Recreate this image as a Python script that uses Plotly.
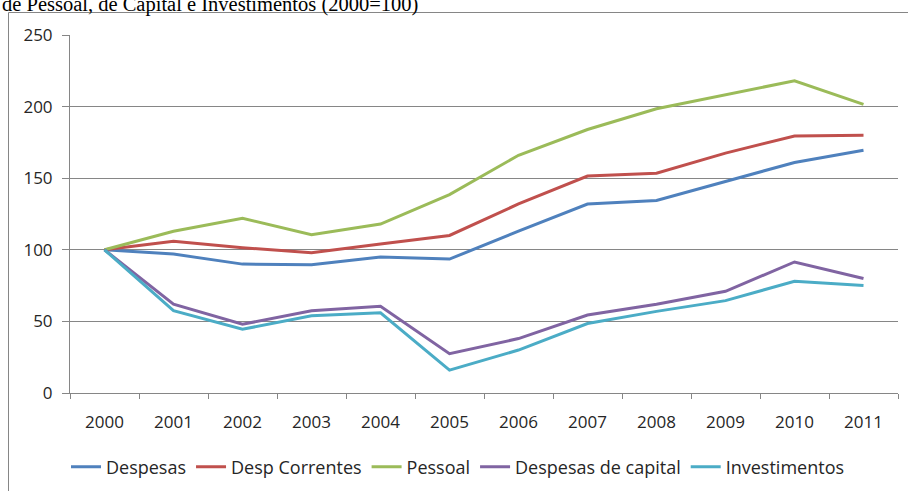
import plotly.graph_objects as go

years = ["2000", "2001", "2002", "2003", "2004", "2005", "2006", "2007", "2008", "2009", "2010", "2011"]
despesas = [100, 97, 90, 89.5, 95, 93.5, 113, 132, 134.5, 148, 161, 169.5]
desp_correntes = [100, 106, 101.5, 98, 104, 110, 132, 151.5, 153.5, 167.5, 179.5, 180]
pessoal = [100, 113, 122, 110.5, 118, 138.5, 166, 184, 198.5, 208, 218, 201.5]
despesas_capital = [100, 62, 48, 57.5, 60.5, 27.5, 38, 54.5, 62, 71, 91.5, 80]
investimentos = [100, 57.5, 44.5, 54, 56, 16, 30, 48.5, 57, 64.5, 78, 75]

series = [
    ("Despesas", despesas, "#4F81BD"),
    ("Desp Correntes", desp_correntes, "#C0504D"),
    ("Pessoal", pessoal, "#9BBB59"),
    ("Despesas de capital", despesas_capital, "#8064A2"),
    ("Investimentos", investimentos, "#4BACC6"),
]

fig = go.Figure()
for name, vals, color in series:
    fig.add_trace(go.Scatter(x=years, y=vals, name=name, mode="lines",
                             line=dict(color=color, width=3)))

FONT = "Open Sans"
L, R, T, B = 70, 10, 35, 98
W, H = 908, 491
ph = H - T - B
pw = W - L - R

def py(pix):
    return (H - B - pix) / ph

def px(pix):
    return (pix - L) / pw

fig.update_layout(
    width=W, height=H,
    margin=dict(l=L, r=R, t=T, b=B, pad=0, autoexpand=False),
    paper_bgcolor="white", plot_bgcolor="white",
    font=dict(family=FONT, size=18, color="#262626"),
    showlegend=True,
    legend=dict(orientation="h", x=px(66), xanchor="left", y=py(467), yanchor="middle",
                font=dict(family=FONT, size=18, color="#262626"),
                bgcolor="rgba(0,0,0,0)", itemwidth=30, tracegroupgap=0),
    xaxis=dict(type="category", range=[-0.5, 11.5], showgrid=False, automargin=False,
               showline=True, linecolor="#868686", linewidth=1,
               ticks="outside", tickson="boundaries", ticklen=5, tickcolor="#868686",
               ticklabelstandoff=14,
               tickfont=dict(family=FONT, size=17, color="#262626"), fixedrange=True),
    yaxis=dict(range=[0, 250], tickvals=[0, 50, 100, 150, 200, 250], automargin=False,
               showgrid=True, gridcolor="#868686", gridwidth=1,
               showline=True, linecolor="#868686", linewidth=1,
               ticks="outside", ticklen=7, tickcolor="#868686",
               ticklabelstandoff=6,
               zeroline=False,
               tickfont=dict(family=FONT, size=17, color="#262626"), fixedrange=True),
    shapes=[dict(type="rect", xref="paper", yref="paper",
                 x0=px(8.5), x1=px(950), y0=py(600), y1=py(12.5),
                 line=dict(color="#868686", width=1), fillcolor="rgba(0,0,0,0)", layer="below")],
    annotations=[dict(text="de Pessoal, de Capital e Investimentos (2000=100)",
                      xref="paper", yref="paper", x=px(0), xanchor="left",
                      y=py(18), yanchor="bottom", showarrow=False,
                      font=dict(family="Liberation Serif", size=20.5, color="black"))],
)

fig.write_html("out.html")
